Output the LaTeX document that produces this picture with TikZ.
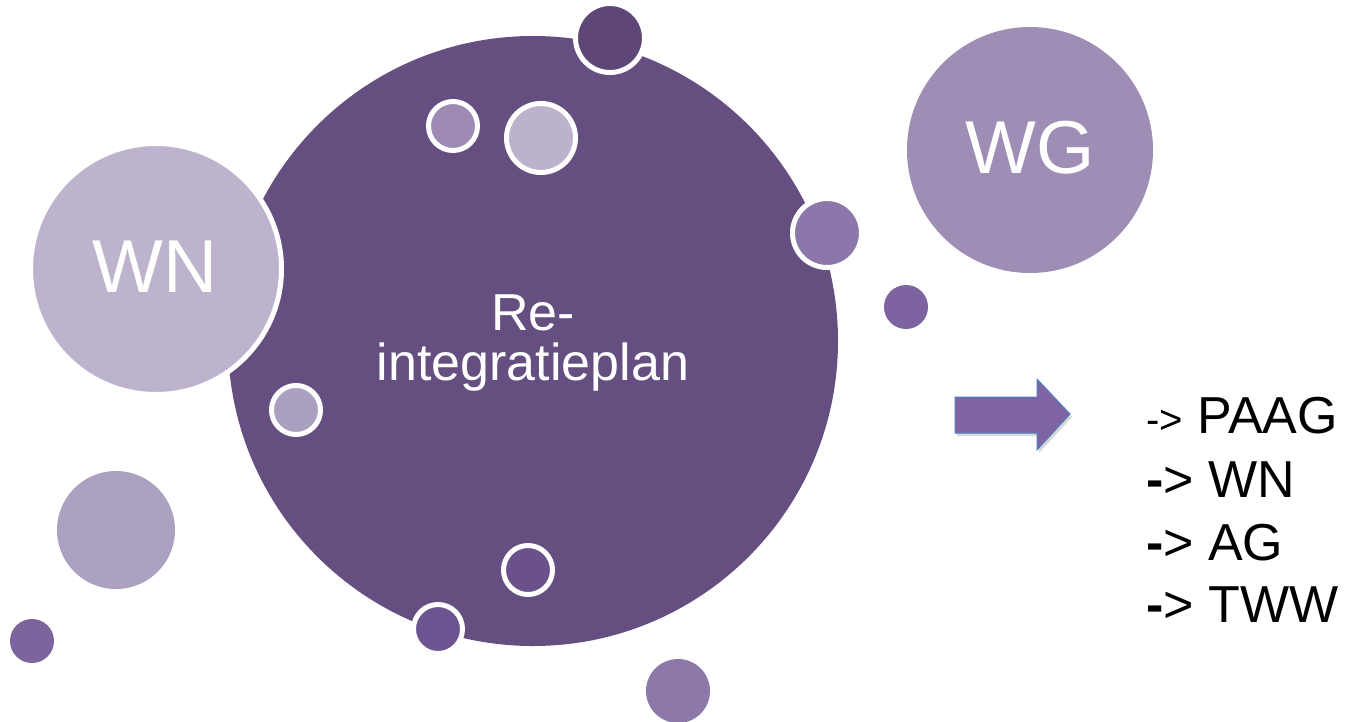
\documentclass[tikz,border=0pt]{standalone}
\usepackage{fontspec}
\setmainfont{Liberation Sans}
\usetikzlibrary{shadows}
\definecolor{mainc}{HTML}{654F80}
\definecolor{wnc}{HTML}{BDB3CD}
\definecolor{wgc}{HTML}{9E8DB4}
\definecolor{topc}{HTML}{5E4676}
\definecolor{cA}{HTML}{9E8BB4}
\definecolor{cB}{HTML}{BDB2CB}
\definecolor{cC}{HTML}{8C77AA}
\definecolor{cD}{HTML}{7D64A0}
\definecolor{cE}{HTML}{ABA0C0}
\definecolor{cF}{HTML}{ACA1C1}
\definecolor{cG}{HTML}{7C649C}
\definecolor{cH}{HTML}{6C5490}
\definecolor{cI}{HTML}{6A518A}
\definecolor{cJ}{HTML}{8C78A9}
\definecolor{arrfill}{HTML}{8064A2}
\definecolor{arredge}{HTML}{4F81BD}
\tikzset{
  bubble/.style={circle, inner sep=0pt, outer sep=0pt, draw=white, line width=5pt, minimum size=#1},
  plainbubble/.style={circle, inner sep=0pt, outer sep=0pt, minimum size=#1},
  wtext/.style={text=white, anchor=base, inner sep=0pt},
  ltext/.style={text=black, anchor=base west, inner sep=0pt, font=\fontsize{52}{52}\selectfont},
}
\begin{document}
\begin{tikzpicture}[x=1pt, y=-1pt]
\useasboundingbox[fill=white] (0,0) rectangle (1347,721);
% main circle
\node[plainbubble=610pt, fill=mainc] (main) at (533,341) {};
% WN and WG
\node[bubble=251pt, fill=wnc] (wn) at (156,269) {};
\node[plainbubble=246pt, fill=wgc] (wg) at (1030,150) {};
% small circles
\node[bubble=69pt, fill=topc] (c1) at (610,38) {};
\node[bubble=49pt, fill=cA] (c2) at (453,126) {};
\node[bubble=69pt, fill=cB] (c3) at (541,138) {};
\node[bubble=69pt, fill=cC] (c4) at (827,233) {};
\node[plainbubble=44pt, fill=cD] (c5) at (906,307) {};
\node[bubble=49pt, fill=cE] (c6) at (296,410) {};
\node[plainbubble=118pt, fill=cF] (c7) at (116,530) {};
\node[plainbubble=44pt, fill=cG] (c8) at (32,641) {};
\node[bubble=49pt, fill=cH] (c9) at (438,629) {};
\node[bubble=49pt, fill=cI] (c10) at (528,570) {};
\node[plainbubble=64pt, fill=cJ] (c11) at (678,691) {};
% texts
\node[wtext, font=\fontsize{52}{52}\selectfont] (t1) at (533,330) {Re-};
\node[wtext, font=\fontsize{52}{52}\selectfont] (t2) at (533,380) {integratieplan};
\node[wtext, font=\fontsize{75}{75}\selectfont] (twn) at (155,292) {WN};
\node[wtext, font=\fontsize{75}{75}\selectfont] (twg) at (1030,173) {WG};
% arrow
\draw[fill=arrfill, draw=arredge, line width=1pt, line join=miter,
      drop shadow={shadow xshift=2pt, shadow yshift=-3pt, opacity=0.3}]
  (955,397) -- (1037,397) -- (1037,379) -- (1070,414) -- (1037,450) -- (1037,433) -- (955,433) -- cycle;
% list
\node[ltext] (l1) at (1146,433) {{\fontsize{40}{40}\selectfont ->} PAAG};
\node[ltext] (l2) at (1146,497) {\textbf{-}> WN};
\node[ltext] (l3) at (1146,560) {\textbf{-}> AG};
\node[ltext] (l4) at (1146,622) {\textbf{-}> TWW};
\end{tikzpicture}
\end{document}
